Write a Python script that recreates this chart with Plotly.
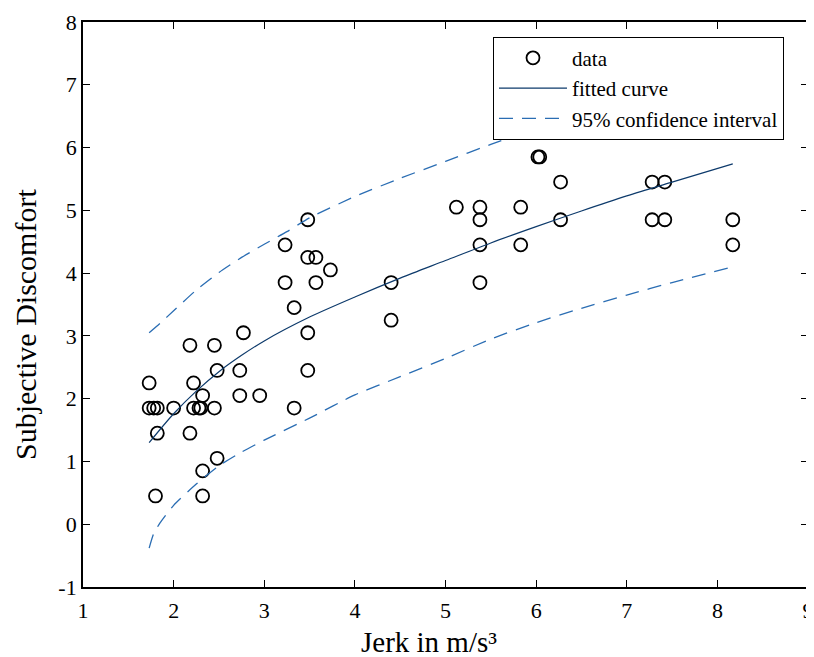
import plotly.graph_objects as go

# Measured data points (Jerk in m/s^3, Subjective Discomfort)
jerk = [1.73, 1.73, 1.78, 1.82, 1.80, 1.82, 2.00, 2.18, 2.18, 2.22, 2.22, 2.28, 2.30,
        2.32, 2.32, 2.32, 2.45, 2.45, 2.48, 2.48, 2.73, 2.73, 2.77, 2.95,
        3.23, 3.23, 3.33, 3.33, 3.48, 3.48, 3.48, 3.48, 3.57, 3.57, 3.73,
        4.40, 4.40, 5.12, 5.38, 5.38, 5.38, 5.38, 5.83, 5.83, 6.02, 6.04,
        6.27, 6.27, 7.28, 7.28, 7.42, 7.42, 8.17, 8.17]
discomfort = [2.25, 1.85, 1.85, 1.85, 0.45, 1.45, 1.85, 2.85, 1.45, 2.25, 1.85, 1.85, 1.85,
              2.05, 0.85, 0.45, 2.85, 1.85, 2.45, 1.05, 2.45, 2.05, 3.05, 2.05,
              4.45, 3.85, 3.45, 1.85, 4.85, 4.25, 3.05, 2.45, 4.25, 3.85, 4.05,
              3.85, 3.25, 5.05, 5.05, 4.85, 4.45, 3.85, 5.05, 4.45, 5.85, 5.85,
              5.45, 4.85, 5.45, 4.85, 5.45, 4.85, 4.85, 4.45]

# Fitted curve
fit_x = [1.73, 2.0, 2.25, 2.5, 2.75, 3.0, 3.5, 4.0, 4.5, 5.0, 5.5, 6.0, 6.5, 7.0, 7.5, 8.17]
fit_y = [1.30, 1.76, 2.12, 2.43, 2.69, 2.92, 3.30, 3.62, 3.92, 4.20, 4.48, 4.74, 4.99, 5.23, 5.45, 5.74]

# 95% confidence interval bounds
up_x = [1.73, 1.85, 2.0, 2.25, 2.5, 2.75, 3.0, 3.25, 3.5, 4.0, 4.5, 5.0, 5.5, 6.0, 6.5, 7.0, 7.5, 8.17]
up_y = [3.05, 3.20, 3.40, 3.73, 4.01, 4.25, 4.46, 4.66, 4.88, 5.22, 5.51, 5.78, 6.05, 6.30, 6.55, 6.82, 7.05, 7.35]
lo_x = [1.73, 1.78, 1.85, 2.0, 2.25, 2.5, 2.75, 3.0, 3.5, 4.0, 4.5, 5.0, 5.5, 6.0, 6.5, 7.0, 7.5, 8.17]
lo_y = [-0.38, -0.15, 0.02, 0.30, 0.64, 0.93, 1.15, 1.34, 1.69, 2.06, 2.35, 2.64, 2.95, 3.21, 3.44, 3.65, 3.85, 4.10]

x_ticks = [1, 2, 3, 4, 5, 6, 7, 8, 9]
y_ticks = [-1, 0, 1, 2, 3, 4, 5, 6, 7, 8]

x_title = "Jerk in m/s³"
y_title = "Subjective Discomfort"

FONT = "Liberation Serif"
CI_COLOR = "#2a6db3"
FIT_COLOR = "#0d3a6b"

fig = go.Figure()
fig.add_trace(go.Scatter(
    x=jerk, y=discomfort, mode="markers", name="data", legendgroup="a",
    marker=dict(symbol="circle-open", size=13, color="black", line=dict(width=1.8, color="black")),
))
fig.add_trace(go.Scatter(
    x=fit_x, y=fit_y, mode="lines", name="fitted curve", legendgroup="b",
    line=dict(color=FIT_COLOR, width=1.2, shape="spline", smoothing=0.8),
))
fig.add_trace(go.Scatter(
    x=up_x, y=up_y, mode="lines", name="95% confidence interval", legendgroup="c",
    line=dict(color=CI_COLOR, width=1.3, dash="14px,9px", shape="spline", smoothing=0.6),
))
fig.add_trace(go.Scatter(
    x=lo_x, y=lo_y, mode="lines", name="95% lower", legendgroup="c", showlegend=False,
    line=dict(color=CI_COLOR, width=1.3, dash="14px,9px", shape="spline", smoothing=0.6),
))

axis_common = dict(
    showgrid=False, zeroline=False, showline=True, linecolor="black", linewidth=1.8,
    mirror="ticks", ticks="inside", ticklen=7, tickwidth=1.3, tickcolor="black",
    tickfont=dict(family=FONT, size=22, color="black"), automargin=False,
)
fig.update_xaxes(range=[1, 9], tickvals=x_ticks, ticktext=[str(v) for v in x_ticks],
                 ticklabelstandoff=3, **axis_common)
fig.update_yaxes(range=[-1, 8], tickvals=y_ticks, ticktext=[str(v) for v in y_ticks],
                 **axis_common)

# axis titles as annotations (placed slightly off-centre like the reference)
fig.add_annotation(text=x_title, xref="paper", yref="paper", x=0.4772, y=-0.097,
                   xanchor="center", yanchor="middle", showarrow=False,
                   font=dict(family=FONT, size=29, color="black"))
fig.add_annotation(text=y_title, xref="paper", yref="paper", x=-0.08, y=0.4637,
                   xanchor="center", yanchor="middle", showarrow=False, textangle=-90,
                   font=dict(family=FONT, size=30, color="black"))

# page body adds an 8px offset; figure sized to fit the window so plot box is at x 83-808, y 22-587
fig.update_layout(
    width=806, height=649,
    margin=dict(l=75, r=6, t=14, b=70),
    plot_bgcolor="white", paper_bgcolor="white",
    font=dict(family=FONT, color="black"),
    showlegend=True,
    legend=dict(
        x=0.5655, y=0.974, xanchor="left", yanchor="top",
        bgcolor="white", bordercolor="black", borderwidth=1,
        font=dict(family=FONT, size=21, color="black"),
        itemwidth=68, traceorder="grouped", tracegroupgap=0,
    ),
)

fig.write_html("out.html")
